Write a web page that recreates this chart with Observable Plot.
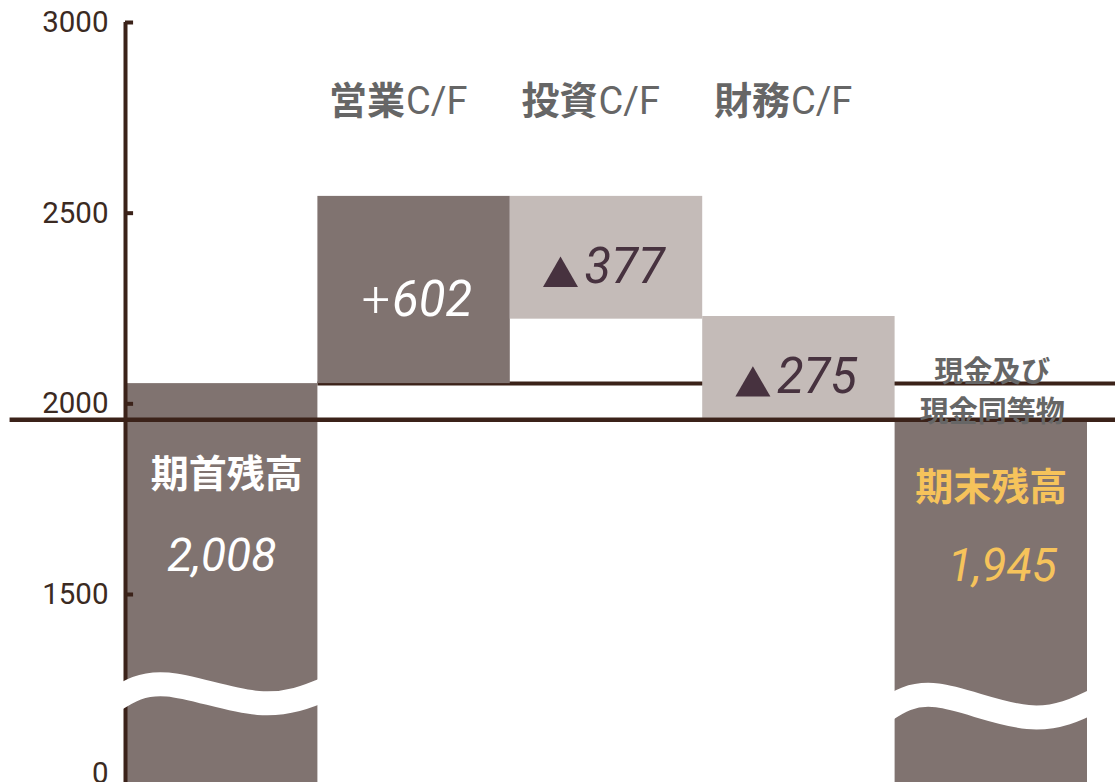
<!DOCTYPE html>
<html>
<head>
<meta charset="utf-8">
<script src="https://cdn.jsdelivr.net/npm/d3@7"></script>
<script src="https://cdn.jsdelivr.net/npm/@observablehq/plot@0.6"></script>
<style>
  html, body { margin: 0; padding: 0; background: #fff; overflow: hidden; }
  g[aria-label="note"] text { letter-spacing: 2px; }
  g[aria-label="cf"] text { letter-spacing: 3px; }
</style>
</head>
<body>
<div id="chart"></div>
<script>
// ---- data ----
const categories  = ["期首残高", "営業C/F", "投資C/F", "財務C/F", "期末残高"];
const valueLabels = ["2,008", "+602", "▲377", "▲275", "1,945"];
// drawn extents of each bar (the chart is schematic, not to scale)
const barLow   = [-80, 2053, 2222, 1962, -80];
const barHigh  = [2053, 2544, 2544, 2229, 1956];
const barTone  = ["dark", "dark", "light", "light", "dark"];
const openingLevel = 2053;
const closingLevel = 1958;
const yTicks = [0, 1500, 2000, 2500, 3000];
const balanceNote = "現金及び\n現金同等物";
// axis-break wave (offset within bar, value on the compressed low segment)
const waveOffset  = [-0.06, 0.22, 0.69, 1.06];
const waveOpening = [612, 746, 591, 721];
const waveClosing = [520, 654, 473, 629];

// ---- styling ----
const tone = {dark: "#807370", light: "#c4bbb8"};
const ink = "#3b2219";
const gray = "#666666";
const gold = "#f6c35b";
const purple = "#47323f";
const cjk = "'Noto Sans CJK JP', sans-serif";
const num = "Roboto, sans-serif";

const idx = d3.range(categories.length);
const flowIdx = [1, 2, 3];
const plusIdx = flowIdx.filter(i => valueLabels[i][0] === "+");
const minusIdx = flowIdx.filter(i => valueLabels[i][0] === "▲");
const mid = i => (barLow[i] + barHigh[i]) / 2;
const waveRows = [];
[[0, waveOpening], [4, waveClosing]].forEach(([b, vals]) =>
  waveOffset.forEach((o, k) => waveRows.push({bar: b, x: b + o, y: vals[k]})));

const chart = Plot.plot({
  width: 1115,
  height: 782,
  marginTop: 0, marginBottom: 0, marginLeft: 0, marginRight: 0,
  x: {type: "linear", domain: [0, 5], range: [125, 1087], axis: null},
  y: {type: "linear", domain: [0, 1500, 3000], range: [773, 594, 22], axis: null},
  color: {type: "identity"},
  style: {background: "#fff", fontFamily: "Roboto, sans-serif", overflow: "hidden"},
  marks: [
    Plot.ruleY([openingLevel], {x1: 1, x2: 5.2, stroke: ink, strokeWidth: 4}),
    Plot.rectY(idx, {x1: i => i, x2: i => i + 1, y1: i => barLow[i], y2: i => barHigh[i], fill: i => tone[barTone[i]]}),
    Plot.ruleY([closingLevel], {x1: -0.6, x2: 5.2, stroke: ink, strokeWidth: 4.5}),
    Plot.ruleX([0], {y1: -80, y2: 3000, stroke: ink, strokeWidth: 4}),
    Plot.ruleY(yTicks.filter(d => d > 0), {x1: 0, x2: 0.042, stroke: ink, strokeWidth: 4}),
    Plot.text(yTicks, {x: 0, y: d => d, text: d => String(d), dx: -17, textAnchor: "end", fill: "#3b2a22", fontSize: 29.5}),
    Plot.line(waveRows, {x: "x", y: "y", z: "bar", stroke: "#fff", strokeWidth: 24, curve: "natural"}),
    // column titles
    Plot.text(flowIdx, {x: i => i + 0.5, frameAnchor: "top", lineAnchor: "middle", dy: 101, dx: -9, textAnchor: "end",
      text: i => categories[i].replace("C/F", ""), fontFamily: cjk, fontWeight: 700, fontSize: 38, fill: gray}),
    Plot.text(flowIdx, {x: i => i + 0.5, frameAnchor: "top", lineAnchor: "middle", dy: 101, dx: -8, textAnchor: "start",
      text: i => categories[i].slice(categories[i].indexOf("C/F")), fontFamily: num, fontSize: 38, fill: gray, ariaLabel: "cf"}),
    // flow values
    Plot.text(plusIdx, {x: i => i + 0.5, y: mid, dy: 10, dx: -24, textAnchor: "end",
      text: i => valueLabels[i][0], fontFamily: num, fontSize: 50, fontWeight: 300, fill: "#fff"}),
    Plot.dot(minusIdx, {x: i => i + 0.5, y: mid, dy: 19, dx: -46, symbol: "triangle", r: 13, fill: purple}),
    Plot.text(flowIdx, {x: i => i + 0.5, y: mid, dy: 10, dx: -22, textAnchor: "start",
      text: i => valueLabels[i].slice(1), fontFamily: num, fontSize: 49, fontStyle: "italic",
      fill: i => valueLabels[i][0] === "+" ? "#fff" : purple}),
    // opening balance
    Plot.text([0], {x: i => i + 0.5, y: i => barHigh[i], dy: 91, dx: 5, text: i => categories[i],
      fontFamily: cjk, fontWeight: 700, fontSize: 38, fill: "#fff"}),
    Plot.text([0], {x: i => i + 0.5, y: i => barHigh[i], dy: 173, dx: 0, text: i => valueLabels[i],
      fontFamily: num, fontStyle: "italic", fontSize: 46, fill: "#fff"}),
    // closing balance
    Plot.text([4], {x: i => i + 0.5, y: i => barHigh[i], dy: 67, dx: 0, text: i => categories[i],
      fontFamily: cjk, fontWeight: 700, fontSize: 38, fill: gold}),
    Plot.text([4], {x: i => i + 0.5, y: i => barHigh[i], dy: 146, dx: 11, text: i => valueLabels[i],
      fontFamily: num, fontStyle: "italic", fontSize: 46, fill: gold}),
    Plot.text([4], {x: i => i + 0.5, y: closingLevel, dy: -31, dx: 1, text: () => balanceNote, lineHeight: 1.4,
      fontFamily: cjk, fontWeight: 700, fontSize: 29, fill: gray, ariaLabel: "note"})
  ]
});
document.getElementById("chart").appendChild(chart);
</script>
</body>
</html>
